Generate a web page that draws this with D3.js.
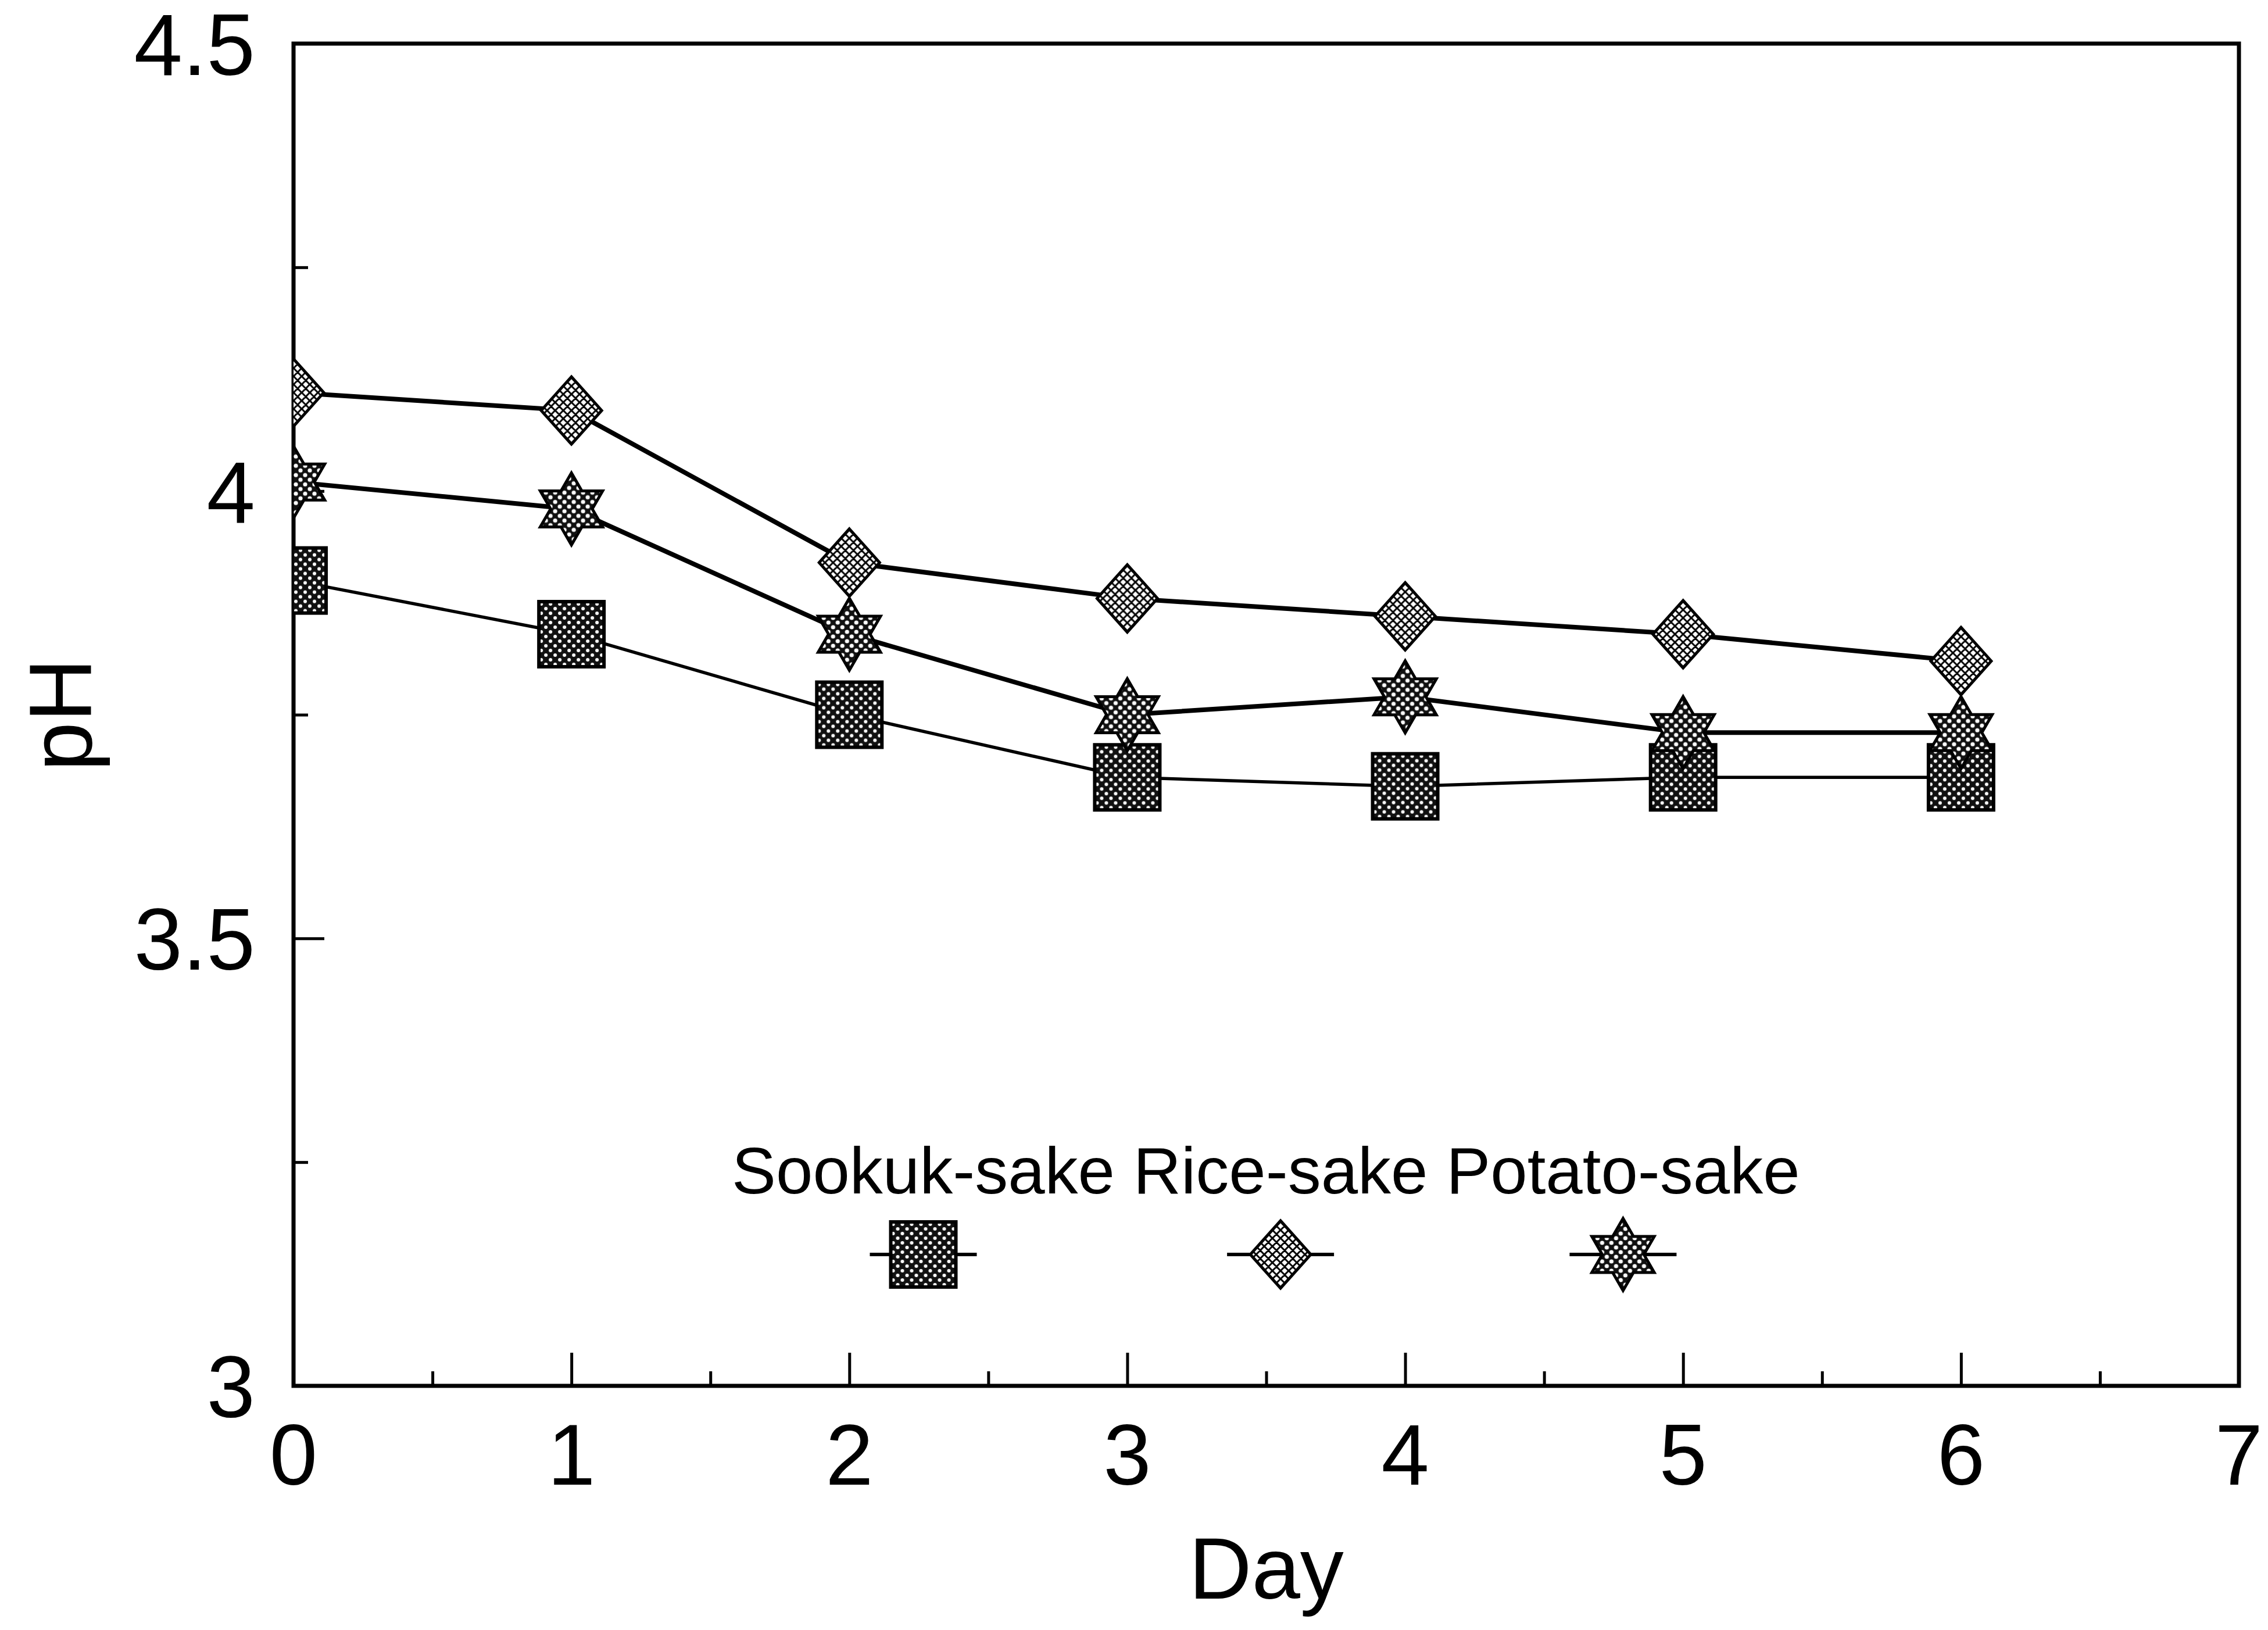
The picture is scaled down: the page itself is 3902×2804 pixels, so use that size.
<!DOCTYPE html>
<html lang="en">
<head>
    <title>pH by Day</title>
    <meta charset="utf-8">
    <script src="https://d3js.org/d3.v7.min.js"></script>
</head>
<style>
  html, body {
    margin: 0;
    padding: 0;
    overflow: hidden;
    background: white;
  }
  svg {
    display: block;
  }
  text {
    font-family: "Liberation Sans", Arial, sans-serif;
    fill: #000;
  }
  .axis .domain {
    display: none;
  }
  .axis line {
    stroke: #000;
    stroke-width: 5;
  }
</style>
<body>
<div id="chart"></div>
</body>
<script>

// data
var days = [0, 1, 2, 3, 4, 5, 6];
var sookukPH = [3.90, 3.84, 3.75, 3.68, 3.67, 3.68, 3.68];
var ricePH = [4.11, 4.09, 3.92, 3.88, 3.86, 3.84, 3.81];
var potatoPH = [4.01, 3.98, 3.84, 3.75, 3.77, 3.73, 3.73];
var seriesNames = ["Sookuk-sake", "Rice-sake", "Potato-sake"];
var xTickValues = [0, 1, 2, 3, 4, 5, 6, 7];
var xTickLabels = ["0", "1", "2", "3", "4", "5", "6", "7"];
var xMinorTicks = [0.5, 1.5, 2.5, 3.5, 4.5, 5.5, 6.5];
var yTickValues = [3, 3.5, 4, 4.5];
var yTickLabels = ["3", "3.5", "4", "4.5"];
var yMinorTicks = [3.25, 3.75, 4.25];

var width = 3902;
var height = 2804;
var margin = {top: 75, right: 50, bottom: 420, left: 505};
var innerWidth = width - margin.left - margin.right;
var innerHeight = height - margin.top - margin.bottom;

var svg = d3.select("#chart")
  .append("svg")
  .attr("width", width)
  .attr("height", height);

var defs = svg.append("defs");

// halftone-like fills
var dotsDark = defs.append("pattern")
  .attr("id", "dotsDark")
  .attr("patternUnits", "userSpaceOnUse")
  .attr("width", 16)
  .attr("height", 16);
dotsDark.append("rect").attr("width", 16).attr("height", 16).attr("fill", "#111");
dotsDark.append("circle").attr("cx", 4).attr("cy", 4).attr("r", 3).attr("fill", "#fff");
dotsDark.append("circle").attr("cx", 12).attr("cy", 12).attr("r", 3).attr("fill", "#fff");

var dotsStar = defs.append("pattern")
  .attr("id", "dotsStar")
  .attr("patternUnits", "userSpaceOnUse")
  .attr("width", 16)
  .attr("height", 16);
dotsStar.append("rect").attr("width", 16).attr("height", 16).attr("fill", "#111");
dotsStar.append("circle").attr("cx", 4).attr("cy", 4).attr("r", 3.6).attr("fill", "#fff");
dotsStar.append("circle").attr("cx", 12).attr("cy", 12).attr("r", 3.6).attr("fill", "#fff");

var hatch = defs.append("pattern")
  .attr("id", "hatch")
  .attr("patternUnits", "userSpaceOnUse")
  .attr("width", 14)
  .attr("height", 14);
hatch.append("rect").attr("width", 14).attr("height", 14).attr("fill", "#fff");
hatch.append("path")
  .attr("d", "M0,0L14,14M14,0L0,14M-7,7L7,21M7,-7L21,7M-7,7L7,-7M7,21L21,7")
  .attr("stroke", "#000")
  .attr("stroke-width", 3);

defs.append("clipPath")
  .attr("id", "plotClip")
  .append("rect")
  .attr("width", innerWidth)
  .attr("height", innerHeight);

var g = svg.append("g").attr("transform", `translate(${margin.left}, ${margin.top})`);

var x = d3.scaleLinear().domain([0, 7]).range([0, innerWidth]);
var y = d3.scaleLinear().domain([3, 4.5]).range([innerHeight, 0]);

// tick marks pointing inward (labels drawn separately below)
g.append("g")
  .attr("class", "axis")
  .attr("transform", "translate(0," + innerHeight + ")")
  .call(d3.axisBottom(x).tickValues(xTickValues).tickSizeInner(-57).tickSizeOuter(0))
  .selectAll("text").remove();

g.append("g")
  .attr("class", "axis")
  .attr("transform", "translate(0," + innerHeight + ")")
  .call(d3.axisBottom(x).tickValues(xMinorTicks).tickSizeInner(-25).tickSizeOuter(0))
  .selectAll("text").remove();

g.append("g")
  .attr("class", "axis")
  .call(d3.axisLeft(y).tickValues(yTickValues).tickSizeInner(-53).tickSizeOuter(0))
  .selectAll("text").remove();

g.append("g")
  .attr("class", "axis")
  .call(d3.axisLeft(y).tickValues(yMinorTicks).tickSizeInner(-25).tickSizeOuter(0))
  .selectAll("text").remove();

// tick labels
g.append("g")
  .selectAll("text")
  .data(xTickValues)
  .enter()
  .append("text")
  .attr("x", d => x(d))
  .attr("y", innerHeight + 170)
  .attr("text-anchor", "middle")
  .attr("font-size", 148)
  .text((d, i) => xTickLabels[i]);

g.append("g")
  .selectAll("text")
  .data(yTickValues)
  .enter()
  .append("text")
  .attr("x", -66)
  .attr("y", d => y(d))
  .attr("dy", "0.36em")
  .attr("text-anchor", "end")
  .attr("font-size", 150)
  .text((d, i) => yTickLabels[i]);

// frame
g.append("rect")
  .attr("width", innerWidth)
  .attr("height", innerHeight)
  .attr("fill", "none")
  .attr("stroke", "#000")
  .attr("stroke-width", 7);

// axis titles
svg.append("text")
  .attr("x", margin.left + innerWidth / 2)
  .attr("y", 2750)
  .attr("text-anchor", "middle")
  .attr("font-size", 150)
  .text("Day");

svg.append("text")
  .attr("transform", "translate(157," + (margin.top + innerHeight / 2) + ") rotate(-90)")
  .attr("text-anchor", "middle")
  .attr("font-size", 152)
  .text("pH");

// marker shapes
var starPath = d3.lineRadial()
  .curve(d3.curveLinearClosed)(d3.range(12).map(i => [i * Math.PI / 6, i % 2 ? 62 / Math.sqrt(3) : 62]));
var diamondPath = "M0,-58L52,0L0,58L-52,0Z";

function drawMarker(sel, kind) {
  if (kind === 0) {
    sel.append("rect")
      .attr("x", -56).attr("y", -56)
      .attr("width", 112).attr("height", 112)
      .attr("fill", "url(#dotsDark)")
      .attr("stroke", "#000")
      .attr("stroke-width", 6);
  } else if (kind === 1) {
    sel.append("path")
      .attr("d", diamondPath)
      .attr("fill", "url(#hatch)")
      .attr("stroke", "#000")
      .attr("stroke-width", 5);
  } else {
    sel.append("path")
      .attr("d", starPath)
      .attr("fill", "url(#dotsStar)")
      .attr("stroke", "#000")
      .attr("stroke-width", 5);
  }
}

var series = [
  {name: seriesNames[0], values: sookukPH, width: 5.5, kind: 0},
  {name: seriesNames[1], values: ricePH, width: 8, kind: 1},
  {name: seriesNames[2], values: potatoPH, width: 8, kind: 2}
];

var line = d3.line()
  .x((d, i) => x(days[i]))
  .y(d => y(d));

var plot = g.append("g").attr("clip-path", "url(#plotClip)");

series.forEach(s => {
  plot.append("path")
    .datum(s.values)
    .attr("fill", "none")
    .attr("stroke", "#000")
    .attr("stroke-width", s.width)
    .attr("d", line);
});

// draw markers after all lines so the lines never cross them
series.forEach(s => {
  plot.selectAll(null)
    .data(s.values)
    .enter()
    .append("g")
    .attr("transform", (d, i) => "translate(" + x(days[i]) + "," + y(d) + ")")
    .each(function() { drawMarker(d3.select(this), s.kind); });
});

// legend: names on one row, a marker under each name
var legendSize = 114;
var legend = g.append("g").attr("transform", "translate(754,1978)");
var cursor = 0;
series.forEach(s => {
  var t = legend.append("text")
    .attr("x", cursor)
    .attr("font-size", legendSize)
    .text(s.name);
  var w = t.node().getComputedTextLength();
  var mid = cursor + w / 2;
  var item = legend.append("g").attr("transform", "translate(" + mid + ",105)");
  item.append("line")
    .attr("x1", -92).attr("x2", 92)
    .attr("stroke", "#000")
    .attr("stroke-width", 6);
  drawMarker(item, s.kind);
  cursor += w + legendSize * 0.278;
});

</script>
</html>
